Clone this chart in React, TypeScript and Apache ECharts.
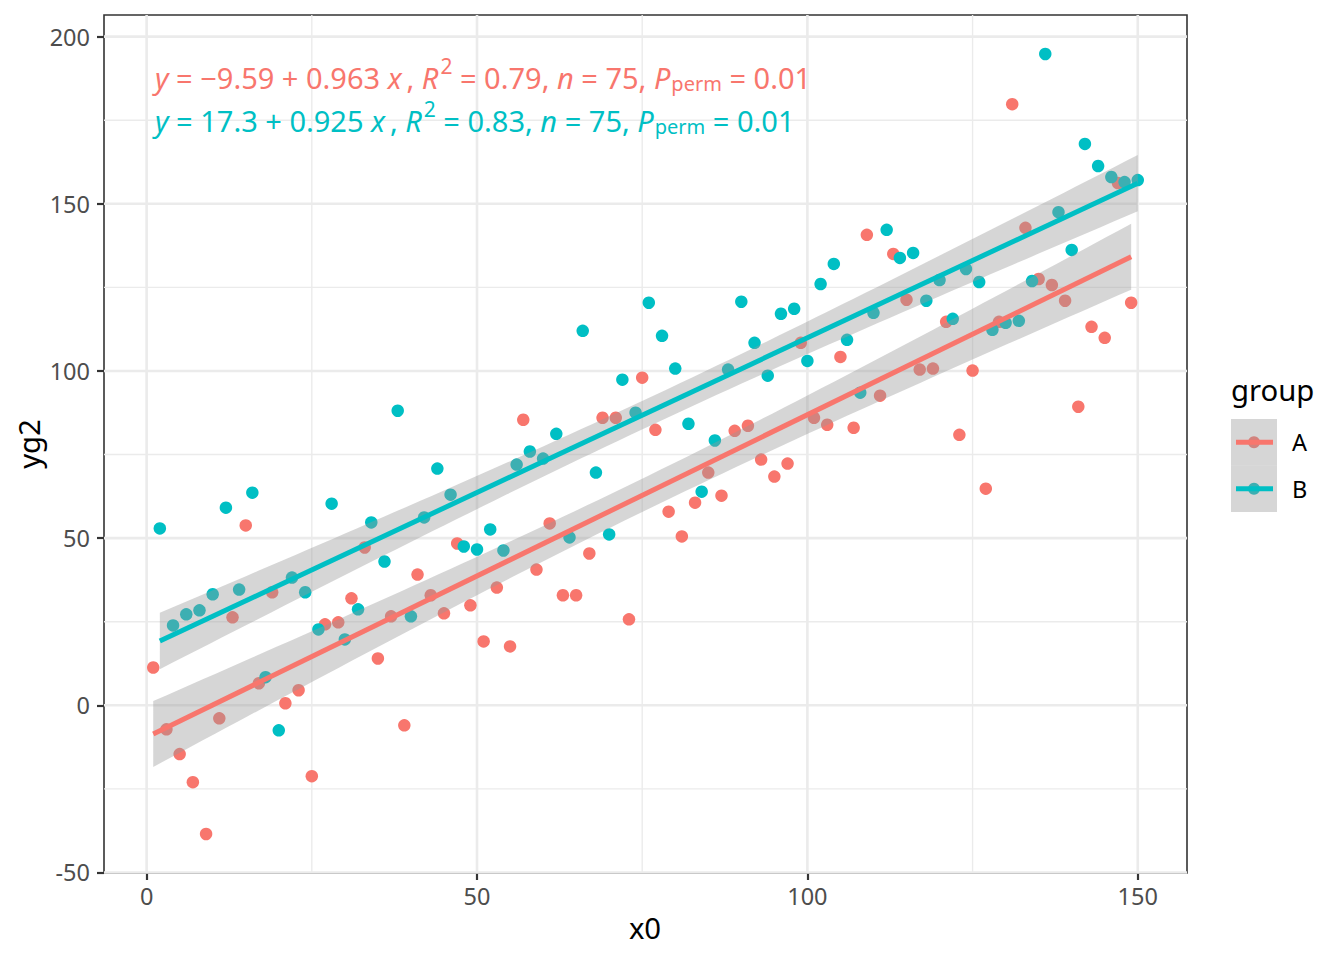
import React, { useEffect, useRef } from "react";
import * as echarts from "echarts";

// ---------------- data ----------------
const xA = [1, 3, 5, 7, 9, 11, 13, 15, 17, 19, 21, 23, 25, 27, 29, 31, 33, 35, 37, 39, 41, 43, 45, 47, 49, 51, 53, 55, 57, 59, 61, 63, 65, 67, 69, 71, 73, 75, 77, 79, 81, 83, 85, 87, 89, 91, 93, 95, 97, 99, 101, 103, 105, 107, 109, 111, 113, 115, 117, 119, 121, 123, 125, 127, 129, 131, 133, 135, 137, 139, 141, 143, 145, 147, 149];
const yA = [11.3, -7.2, -14.6, -23.0, -38.5, -3.9, 26.3, 53.8, 6.6, 33.8, 0.6, 4.5, -21.2, 24.2, 24.8, 32.0, 47.2, 14.0, 26.6, -6.0, 39.1, 32.9, 27.5, 48.4, 29.9, 19.1, 35.2, 17.6, 85.4, 40.6, 54.4, 32.9, 32.9, 45.4, 86.0, 86.0, 25.7, 98.0, 82.4, 57.9, 50.5, 60.6, 69.6, 62.7, 82.1, 83.6, 73.5, 68.4, 72.3, 108.4, 86.0, 83.9, 104.2, 83.0, 140.7, 92.6, 135.0, 121.3, 100.4, 100.7, 114.7, 80.9, 100.1, 64.8, 114.7, 179.8, 142.8, 127.5, 125.7, 121.0, 89.3, 113.2, 109.9, 156.2, 120.4];
const xB = [2, 4, 6, 8, 10, 12, 14, 16, 18, 20, 22, 24, 26, 28, 30, 32, 34, 36, 38, 40, 42, 44, 46, 48, 50, 52, 54, 56, 58, 60, 62, 64, 66, 68, 70, 72, 74, 76, 78, 80, 82, 84, 86, 88, 90, 92, 94, 96, 98, 100, 102, 104, 106, 108, 110, 112, 114, 116, 118, 120, 122, 124, 126, 128, 130, 132, 134, 136, 138, 140, 142, 144, 146, 148, 150];
const yB = [52.9, 23.9, 27.2, 28.4, 33.2, 59.1, 34.6, 63.6, 8.4, -7.5, 38.2, 33.8, 22.7, 60.3, 19.7, 28.7, 54.7, 43.0, 88.1, 26.6, 56.2, 70.8, 63.0, 47.5, 46.6, 52.6, 46.3, 72.0, 75.9, 73.8, 81.2, 50.2, 112.0, 69.6, 51.1, 97.4, 87.5, 120.4, 110.5, 100.7, 84.2, 63.9, 79.2, 100.4, 120.7, 108.4, 98.6, 117.1, 118.6, 103.0, 126.0, 132.0, 109.3, 93.5, 117.4, 142.2, 133.8, 135.3, 121.0, 127.2, 115.6, 130.5, 126.6, 112.3, 114.4, 115.0, 126.9, 194.8, 147.5, 136.2, 167.9, 161.3, 158.0, 156.5, 157.1];

const groups = ["A", "B"];
const groupColors = ["#F8766D", "#00BFC4"];

const xMajor = [0, 50, 100, 150];
const xMinor = [25, 75, 125];
const yMajor = [-50, 0, 50, 100, 150, 200];
const yMinor = [-25, 25, 75, 125, 175];

// equation labels (as printed in the chart)
const eqIntercept = ["\u22129.59", "17.3"];
const eqSlope = ["0.963", "0.925"];
const eqR2 = ["0.79", "0.83"];
const eqN = ["75", "75"];
const eqP = ["0.01", "0.01"];

// ---------------- stats (geom_smooth lm, 95% CI) ----------------
function fitLm(xs: number[], ys: number[]) {
  const n = xs.length;
  const mx = xs.reduce((s, v) => s + v, 0) / n;
  const my = ys.reduce((s, v) => s + v, 0) / n;
  let sxx = 0, sxy = 0;
  for (let i = 0; i < n; i++) {
    sxx += (xs[i] - mx) ** 2;
    sxy += (xs[i] - mx) * (ys[i] - my);
  }
  const b = sxy / sxx;
  const a = my - b * mx;
  let sse = 0;
  for (let i = 0; i < n; i++) sse += (ys[i] - a - b * xs[i]) ** 2;
  const s = Math.sqrt(sse / (n - 2));
  const t = 1.993; // qt(0.975, 73)
  const lo = Math.min(...xs);
  const hi = Math.max(...xs);
  const upper: number[][] = [];
  const lower: number[][] = [];
  const m = 80;
  for (let i = 0; i < m; i++) {
    const x = lo + ((hi - lo) * i) / (m - 1);
    const yh = a + b * x;
    const se = s * Math.sqrt(1 / n + (x - mx) ** 2 / sxx);
    upper.push([x, yh + t * se]);
    lower.push([x, yh - t * se]);
  }
  return { a, b, lo, hi, upper, lower };
}

const FONT = "Noto Sans";

export default function App() {
  const ref = useRef<HTMLDivElement>(null);

  useEffect(() => {
    if (!ref.current) return;
    const chart = echarts.init(ref.current, null, { renderer: "svg" });

    const xsAll = [xA, xB];
    const ysAll = [yA, yB];
    const fits = [fitLm(xA, yA), fitLm(xB, yB)];

    const allX = [...xA, ...xB];
    let allY = [...yA, ...yB];
    fits.forEach((f) => {
      allY = allY.concat(f.upper.map((p) => p[1]), f.lower.map((p) => p[1]));
    });
    const x0 = Math.min(...allX), x1 = Math.max(...allX);
    const y0 = Math.min(...allY), y1 = Math.max(...allY);
    const xMin = x0 - 0.05 * (x1 - x0);
    const xMax = x1 + 0.05 * (x1 - x0);
    const yMin = y0 - 0.05 * (y1 - y0);
    const yMax = y1 + 0.05 * (y1 - y0);

    const vLines = (vals: number[], width: number) => ({
      type: "custom",
      silent: true,
      z: 1,
      clip: false,
      data: vals.map((v) => [v, (yMin + yMax) / 2]),
      renderItem: (_p: any, api: any) => {
        const v = api.value(0);
        const a = api.coord([v, yMin]);
        const b = api.coord([v, yMax]);
        return {
          type: "line",
          shape: { x1: a[0], y1: a[1], x2: b[0], y2: b[1] },
          style: { stroke: "#EBEBEB", lineWidth: width },
        };
      },
    });
    const hLines = (vals: number[], width: number) => ({
      type: "custom",
      silent: true,
      z: 1,
      clip: false,
      data: vals.map((v) => [(xMin + xMax) / 2, v]),
      renderItem: (_p: any, api: any) => {
        const v = api.value(1);
        const a = api.coord([xMin, v]);
        const b = api.coord([xMax, v]);
        return {
          type: "line",
          shape: { x1: a[0], y1: a[1], x2: b[0], y2: b[1] },
          style: { stroke: "#EBEBEB", lineWidth: width },
        };
      },
    });

    const scatterSeries = groups.map((g, gi) => ({
      type: "scatter",
      name: g,
      z: 2,
      symbol: "circle",
      symbolSize: 12.5,
      itemStyle: { color: groupColors[gi], opacity: 1 },
      data: xsAll[gi].map((x, i) => [x, ysAll[gi][i]]),
      silent: true,
    }));

    const ribbonSeries = fits.map((f) => ({
      type: "custom",
      silent: true,
      z: 3,
      clip: true,
      data: [[(f.lo + f.hi) / 2, f.a + f.b * ((f.lo + f.hi) / 2)]],
      renderItem: (_p: any, api: any) => {
        const pts = f.upper
          .concat(f.lower.slice().reverse())
          .map((p) => api.coord([p[0], p[1]]));
        return {
          type: "polygon",
          shape: { points: pts },
          style: { fill: "rgba(153,153,153,0.4)", stroke: "none" },
        };
      },
    }));

    const lineSeries = fits.map((f, gi) => ({
      type: "line",
      z: 4,
      silent: true,
      showSymbol: false,
      symbol: "none",
      lineStyle: { color: groupColors[gi], width: 5 },
      data: [
        [f.lo, f.a + f.b * f.lo],
        [f.hi, f.a + f.b * f.hi],
      ],
    }));

    const eqFs = 29;
    const makeRich = (color: string) => ({
      m: { fill: color, fontFamily: FONT, fontSize: eqFs, lineHeight: 44 },
      i: { fill: color, fontFamily: FONT, fontSize: eqFs, fontStyle: "italic", lineHeight: 44 },
      sup: {
        fill: color,
        fontFamily: FONT,
        fontSize: 21,
        lineHeight: 19,
        verticalAlign: "top",
        padding: [0, 0, 0, 2],
      },
      sub: {
        fill: color,
        fontFamily: FONT,
        fontSize: 20,
        lineHeight: 17,
        verticalAlign: "middle",
        padding: [13, 0, 0, 1],
      },
    });
    const eqText = (gi: number) =>
      `{i|y}{m| = ${eqIntercept[gi]} + ${eqSlope[gi]} }{i|x}{m|\u2009, }{i|R}{sup|2}{m| = ${eqR2[gi]}, }{i|n}{m| = ${eqN[gi]}, }{i|P}{sub|perm}{m| = ${eqP[gi]}}`;

    const eqGraphics = groups.map((g, gi) => ({
      type: "text",
      x: 155,
      y: gi === 0 ? 77 : 120,
      z: 20,
      style: {
        text: eqText(gi),
        rich: makeRich(groupColors[gi]),
        fill: groupColors[gi],
        fontFamily: FONT,
        fontSize: eqFs,
        align: "left",
        verticalAlign: "middle",
        textAlign: "left",
        textVerticalAlign: "middle",
      },
    }));

    const legendKeyTop = 419;
    const keyH = 46.5;
    const legendGraphics: any[] = [
      {
        type: "text",
        x: 1231,
        y: 390,
        z: 20,
        style: {
          text: "group",
          fill: "#000000",
          fontFamily: FONT,
          fontSize: 29.3,
          align: "left",
          verticalAlign: "middle",
          textAlign: "left",
          textVerticalAlign: "middle",
        },
      },
    ];
    groups.forEach((g, gi) => {
      const top = legendKeyTop + gi * keyH;
      const cy = top + keyH / 2;
      legendGraphics.push(
        {
          type: "rect",
          z: 20,
          shape: { x: 1231, y: top, width: 46, height: keyH },
          style: { fill: "#FFFFFF" },
        },
        {
          type: "circle",
          z: 21,
          shape: { cx: 1254, cy, r: 6 },
          style: { fill: groupColors[gi] },
        },
        {
          type: "rect",
          z: 22,
          shape: { x: 1231, y: top, width: 46, height: keyH },
          style: { fill: "rgba(153,153,153,0.4)" },
        },
        {
          type: "line",
          z: 23,
          shape: { x1: 1236, y1: cy, x2: 1273, y2: cy },
          style: { stroke: groupColors[gi], lineWidth: 5 },
        },
        {
          type: "text",
          x: 1292,
          y: cy,
          z: 23,
          style: {
            text: g,
            fill: "#000000",
            fontFamily: FONT,
            fontSize: 23.5,
            align: "left",
            verticalAlign: "middle",
            textAlign: "left",
            textVerticalAlign: "middle",
          },
        }
      );
    });

    const titleGraphics = [
      {
        type: "text",
        x: 645,
        y: 928,
        z: 20,
        style: {
          text: "x0",
          fill: "#000000",
          fontFamily: FONT,
          fontSize: 29.3,
          align: "center",
          verticalAlign: "middle",
          textAlign: "center",
          textVerticalAlign: "middle",
        },
      },
      {
        type: "text",
        x: 29,
        y: 444,
        rotation: Math.PI / 2,
        z: 20,
        style: {
          text: "yg2",
          fill: "#000000",
          fontFamily: FONT,
          fontSize: 29.3,
          align: "center",
          verticalAlign: "middle",
          textAlign: "center",
          textVerticalAlign: "middle",
        },
      },
    ];

    const option: any = {
      animation: false,
      backgroundColor: "#FFFFFF",
      textStyle: { fontFamily: FONT },
      grid: {
        left: 104,
        top: 15,
        width: 1083,
        height: 858,
        show: true,
        backgroundColor: "#FFFFFF",
        borderColor: "#333333",
        borderWidth: 1.6,
        containLabel: false,
      },
      xAxis: {
        type: "value",
        min: xMin,
        max: xMax,
        axisLine: { show: false, onZero: false },
        splitLine: { show: false },
        axisTick: {
          show: true,
          customValues: xMajor,
          length: 7,
          inside: false,
          lineStyle: { color: "#333333", width: 2.2 },
        },
        axisLabel: {
          show: true,
          customValues: xMajor,
          color: "#4D4D4D",
          fontFamily: FONT,
          fontSize: 23.5,
          margin: 11,
          formatter: (v: number) => String(v),
        },
      },
      yAxis: {
        type: "value",
        min: yMin,
        max: yMax,
        axisLine: { show: false, onZero: false },
        splitLine: { show: false },
        axisTick: {
          show: true,
          customValues: yMajor,
          length: 7,
          inside: false,
          lineStyle: { color: "#333333", width: 2.2 },
        },
        axisLabel: {
          show: true,
          customValues: yMajor,
          color: "#4D4D4D",
          fontFamily: FONT,
          fontSize: 23.5,
          margin: 14,
          formatter: (v: number) => String(v),
        },
      },
      graphic: { elements: [...eqGraphics, ...legendGraphics, ...titleGraphics] },
      series: [
        vLines(xMinor, 1.4),
        hLines(yMinor, 1.4),
        vLines(xMajor, 2.6),
        hLines(yMajor, 2.6),
        ...scatterSeries,
        ...ribbonSeries,
        ...lineSeries,
      ],
    };

    chart.setOption(option);
    return () => chart.dispose();
  }, []);

  return (
    <div
      ref={ref}
      style={{ position: "absolute", left: 0, top: 0, width: 1344, height: 960 }}
    />
  );
}
